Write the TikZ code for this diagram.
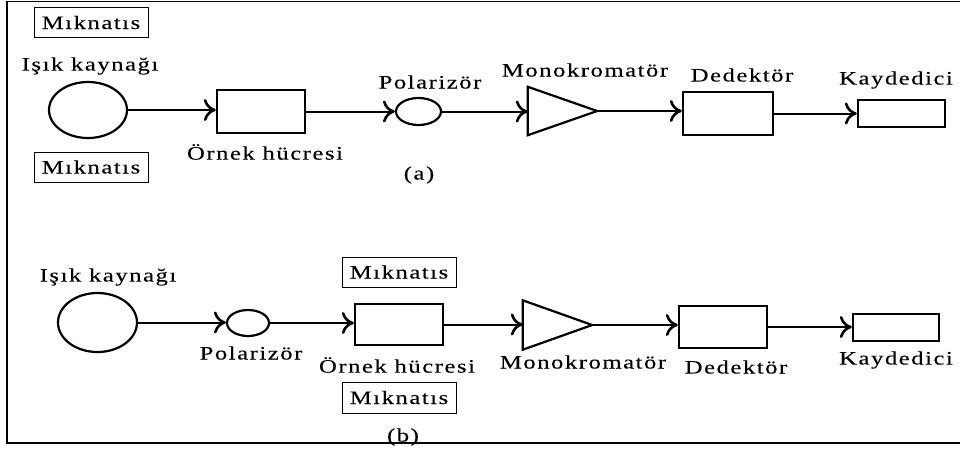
\documentclass[tikz,border=0pt]{standalone}
\usepackage{fontspec}
\setmainfont{Liberation Serif}
\newfontfamily\lblfont[FakeStretch=1.3,LetterSpace=8,FakeBold=0.15]{Liberation Serif}
\usetikzlibrary{arrows.meta,shapes.geometric}
\begin{document}
\begin{tikzpicture}[x=1pt,y=-1pt,
  lbl/.style={font=\lblfont\fontsize{19}{21}\selectfont, inner sep=0},
  magbox/.style={draw, line width=1pt, minimum width=114pt, minimum height=30pt, inner sep=0, font=\lblfont\fontsize{19}{21}\selectfont},
  srcell/.style={draw, ellipse, line width=2.2pt, inner sep=0},
  thickbox/.style={draw, line width=2.4pt, inner sep=0},
  hidden/.style={inner sep=0},
  conn/.style={line width=2pt, -{Computer Modern Rightarrow[length=12pt,width=22pt,line width=2.6pt 0]}},
  tri/.style={line width=2.2pt, line join=miter}]
\useasboundingbox (0,0) rectangle (960,448);
\draw[line width=1.2pt] (975,1.5) -- (7,1.5) -- (7,443) -- (975,443);

% ---- (a) ----
\node[magbox] (m1) at (91,22.5) {Mıknatıs};
\node[magbox] (m2) at (91,167) {Mıknatıs};
\node[lbl] (l1) at (90,66) {Işık kaynağı};
\node[srcell, minimum width=78pt, minimum height=56pt] (s1) at (88,110) {};
\node[thickbox, minimum width=88pt, minimum height=43pt] (c1) at (261,111.5) {};
\node[lbl] (t1) at (265,152) {Örnek hücresi};
\node[srcell, minimum width=45pt, minimum height=27pt] (p1) at (418.5,111.5) {};
\node[lbl] (tp1) at (430,82) {Polarizör};
\node[hidden, minimum width=69pt, minimum height=48pt] (mo1) at (562.5,111) {};
\draw[tri] (mo1.north west) -- (mo1.east) -- (mo1.south west) -- cycle;
\node[lbl] (tm1) at (585,70) {Monokromatör};
\node[thickbox, minimum width=90pt, minimum height=43pt] (d1) at (728,113.5) {};
\node[lbl] (td1) at (742,75) {Dedektör};
\node[thickbox, minimum width=87pt, minimum height=27pt] (k1) at (901.5,113.5) {};
\node[lbl] (tk1) at (896,80) {Kaydedici};
\node[lbl] (a) at (419,175) {(a)};

\draw[conn] (s1.east) -- (s1.east -| c1.west);
\draw[conn] (c1.east) -- (c1.east -| p1.west);
\draw[conn] (p1.east) -- (p1.east -| mo1.west);
\draw[conn] (mo1.east) -- (mo1.east -| d1.west);
\draw[conn] (d1.east) -- (d1.east -| k1.west);

% ---- (b) ----
\node[lbl] (l2) at (108,277) {Işık kaynağı};
\node[srcell, minimum width=79pt, minimum height=59pt] (s2) at (97.5,322.5) {};
\node[srcell, minimum width=42pt, minimum height=26pt] (p2) at (248,323) {};
\node[lbl] (tp2) at (251,353) {Polarizör};
\node[magbox] (m3) at (399,272) {Mıknatıs};
\node[thickbox, minimum width=88pt, minimum height=41pt] (c2) at (399,324.5) {};
\node[lbl] (t2) at (397,365) {Örnek hücresi};
\node[magbox, minimum height=31pt] (m4) at (399,397.5) {Mıknatıs};
\node[lbl] (b) at (403,437) {(b)};
\node[hidden, minimum width=69pt, minimum height=49pt] (mo2) at (557.5,325) {};
\draw[tri] (mo2.north west) -- (mo2.east) -- (mo2.south west) -- cycle;
\node[lbl] (tm2) at (583,362) {Monokromatör};
\node[thickbox, minimum width=88pt, minimum height=42pt] (d2) at (723,327) {};
\node[lbl] (td2) at (736,367) {Dedektör};
\node[thickbox, minimum width=86pt, minimum height=27pt] (k2) at (896,327.5) {};
\node[lbl] (tk2) at (896,360) {Kaydedici};

\draw[conn] (s2.east) -- (s2.east -| p2.west);
\draw[conn] (p2.east) -- (p2.east -| c2.west);
\draw[conn] (c2.east) -- (c2.east -| mo2.west);
\draw[conn] (mo2.east) -- (mo2.east -| d2.west);
\draw[conn] (d2.east) -- (d2.east -| k2.west);
\end{tikzpicture}
\end{document}
